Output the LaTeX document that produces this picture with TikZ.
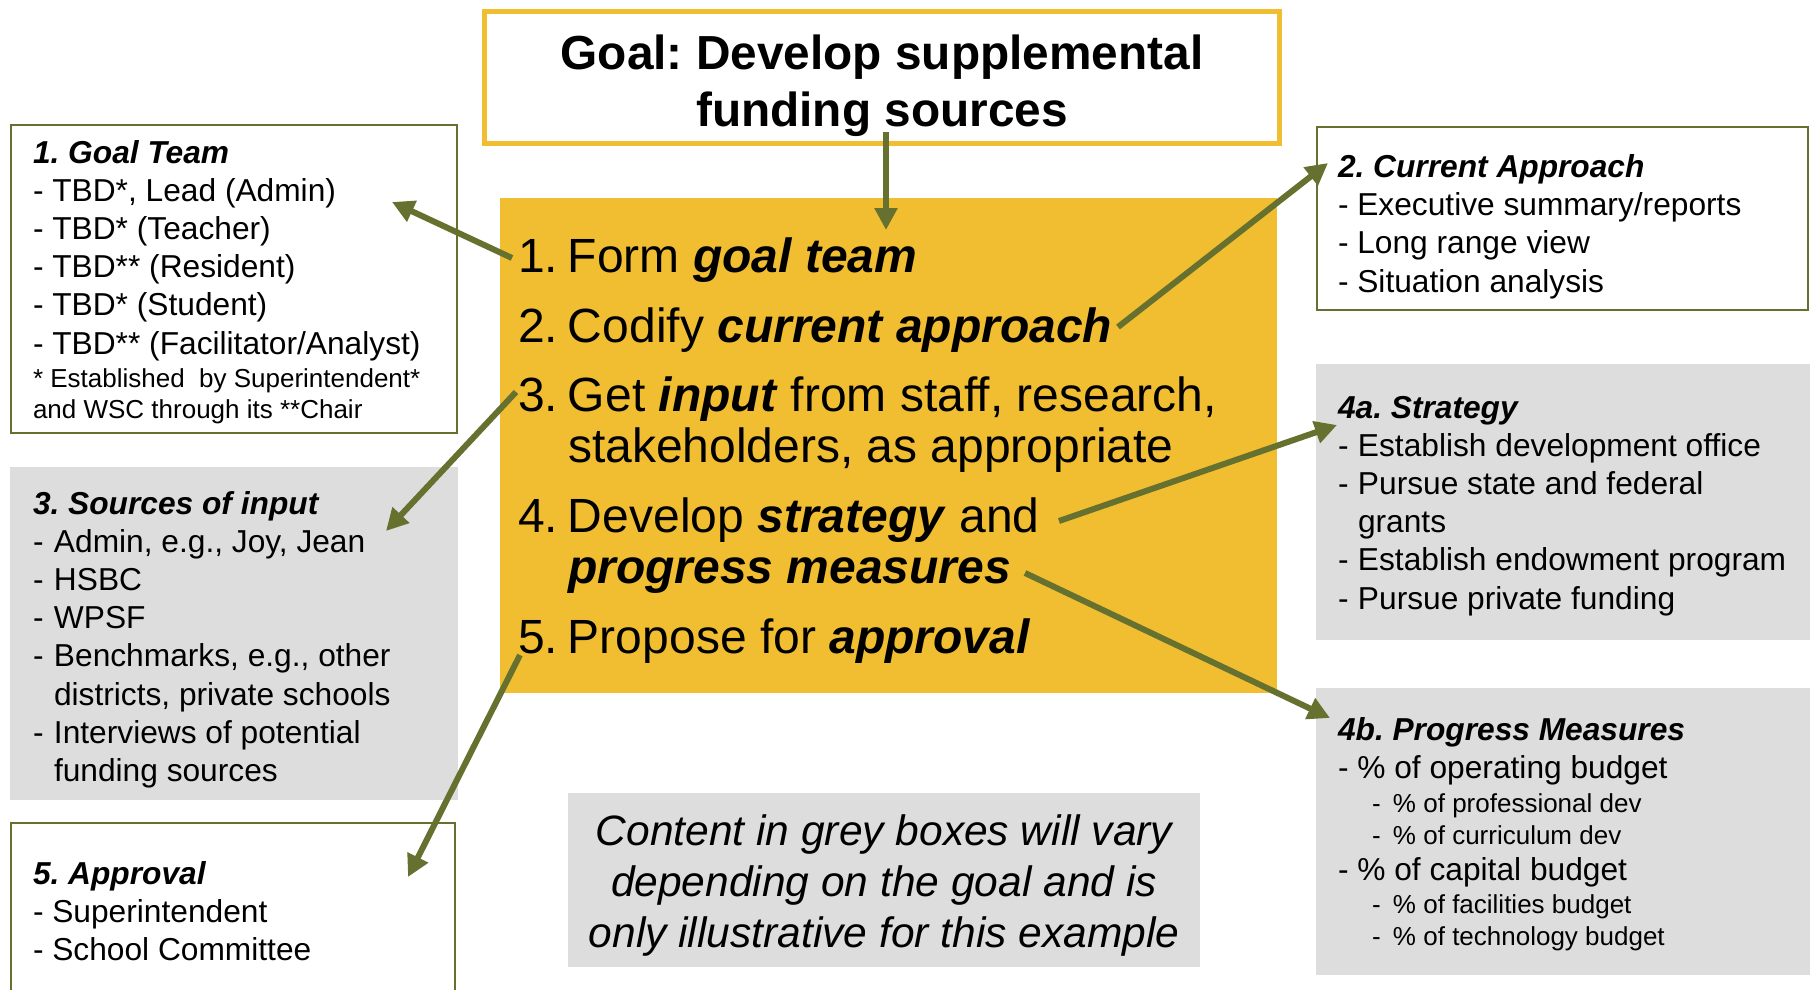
\documentclass[tikz,border=0pt]{standalone}
\usepackage{fontspec}
\setmainfont{Liberation Sans}
\usetikzlibrary{arrows.meta}
\definecolor{oliveG}{HTML}{67712F}
\definecolor{goldG}{HTML}{F1BE32}
\definecolor{greyG}{HTML}{DDDDDD}
\newcommand{\bi}[1]{\textbf{\textit{#1}}}
\frenchspacing
\begin{document}
\begin{tikzpicture}[x=1pt,y=-1pt,
  wbox/.style={draw=oliveG, line width=2.5pt, fill=white, anchor=north west, inner sep=0pt, outer sep=0pt},
  gbox/.style={fill=greyG, anchor=north west, inner sep=0pt, outer sep=0pt},
  lbl/.style={anchor=base west, inner sep=0pt, outer sep=0pt, font=\fontsize{31.7}{38.2}\selectfont},
  sublbl/.style={anchor=base west, inner sep=0pt, outer sep=0pt, font=\fontsize{26}{31.5}\selectfont},
  ctext/.style={anchor=base west, inner sep=0pt, outer sep=0pt, font=\fontsize{48}{51.5}\selectfont},
  arr/.style={draw=oliveG, line width=6pt, -{Triangle[length=22pt,width=22pt]}}]
\useasboundingbox (0,0) rectangle (1810,989);
\fill[white] (0,0) rectangle (1810,989);

% boxes
\node[draw=goldG, line width=5pt, fill=white, anchor=north west, inner sep=0pt, outer sep=0pt,
      minimum width=795pt, minimum height=132pt] (goal) at (484.5,11.5) {};
\node[fill=goldG, anchor=north west, inner sep=0pt, outer sep=0pt,
      minimum width=777pt, minimum height=495pt] (steps) at (500,198) {};
\node[wbox, minimum width=446pt, minimum height=308pt] (box1) at (11,125) {};
\node[gbox, minimum width=448pt, minimum height=333pt] (box3) at (10,467) {};
\node[wbox, minimum width=444pt, minimum height=180pt] (box5) at (11,823) {};
\node[wbox, minimum width=491pt, minimum height=183pt] (box2) at (1317,127) {};
\node[gbox, minimum width=494pt, minimum height=276pt] (box4a) at (1316,364) {};
\node[gbox, minimum width=494pt, minimum height=287pt] (box4b) at (1316,688) {};
\node[gbox, minimum width=632pt, minimum height=174pt] (note) at (568,793) {};

% goal title
\node[anchor=base, inner sep=0pt, font=\fontsize{47.8}{57.5}\selectfont\bfseries] (goalt) at (882,69)
  {\parbox[t]{790pt}{\centering Goal: Develop supplemental\\funding sources}};

% central steps
\node[ctext] (c1) at (518,272) {\makebox[50pt][l]{1.}Form \bi{goal team}};
\node[ctext] (c2) at (518,342) {\makebox[50pt][l]{2.}Codify \bi{current approach}};
\node[ctext] (c3) at (518,411) {\makebox[50pt][l]{3.}\parbox[t]{700pt}{Get \bi{input} from staff, research,\\stakeholders, as appropriate}};
\node[ctext] (c4) at (518,532) {\makebox[50pt][l]{4.}\parbox[t]{700pt}{Develop \bi{strategy} and\\\bi{progress measures}}};
\node[ctext] (c5) at (518,653) {\makebox[50pt][l]{5.}Propose for \bi{approval}};

% box 1
\node[lbl] (t1) at (33,163) {\parbox[t]{420pt}{\bi{1. Goal Team}\\
- TBD*, Lead (Admin)\\
- TBD* (Teacher)\\
- TBD** (Resident)\\
- TBD* (Student)\\
- TBD** (Facilitator/Analyst)}};
\node[sublbl] (f1) at (33,387) {\parbox[t]{420pt}{* Established\ \ by Superintendent*\\and WSC through its **Chair}};

% box 3
\node[lbl] (t3) at (33,514) {\parbox[t]{420pt}{\bi{3. Sources of input}\\
\makebox[21pt][l]{-}Admin, e.g., Joy, Jean\\
\makebox[21pt][l]{-}HSBC\\
\makebox[21pt][l]{-}WPSF\\
\makebox[21pt][l]{-}Benchmarks, e.g., other\\
\hspace*{21pt}districts, private schools\\
\makebox[21pt][l]{-}Interviews of potential\\
\hspace*{21pt}funding sources}};

% box 5
\node[lbl] (t5) at (33,884.5) {\parbox[t]{420pt}{\bi{5. Approval}\\
- Superintendent\\
- School Committee}};

% box 2
\node[lbl] (t2) at (1338,177.5) {\parbox[t]{460pt}{\bi{2. Current Approach}\\
- Executive summary/reports\\
- Long range view\\
- Situation analysis}};

% box 4a
\node[lbl] (t4a) at (1338,418) {\parbox[t]{470pt}{\bi{4a. Strategy}\\
\makebox[20pt][l]{-}Establish development office\\
\makebox[20pt][l]{-}Pursue state and federal\\
\hspace*{20pt}grants\\
\makebox[20pt][l]{-}Establish endowment program\\
\makebox[20pt][l]{-}Pursue private funding}};

% box 4b
\node[lbl] (t4b) at (1338,740) {\bi{4b. Progress Measures}};
\node[lbl] (t4b1) at (1338,778) {- \% of operating budget};
\node[sublbl] (t4b2) at (1372,812) {\makebox[21pt][l]{-}\% of professional dev};
\node[sublbl] (t4b3) at (1372,844) {\makebox[21pt][l]{-}\% of curriculum dev};
\node[lbl] (t4b4) at (1338,880) {- \% of capital budget};
\node[sublbl] (t4b5) at (1372,913) {\makebox[21pt][l]{-}\% of facilities budget};
\node[sublbl] (t4b6) at (1372,945) {\makebox[21pt][l]{-}\% of technology budget};

% note
\node[anchor=base, inner sep=0pt, font=\fontsize{42.5}{51}\selectfont\itshape] (notet) at (884,845)
  {\parbox[t]{630pt}{\centering Content in grey boxes will vary\\depending on the goal and is\\only illustrative for this example}};

% arrow end points
\coordinate (g0) at (886,132);  \coordinate (g1) at (886,230);
\coordinate (a1s) at (512,258); \coordinate (a1e) at (392,202);
\coordinate (a2s) at (1118,327); \coordinate (a2e) at (1328,163);
\coordinate (a3s) at (516,392); \coordinate (a3e) at (386,531);
\coordinate (a4s) at (1059,521); \coordinate (a4e) at (1337,425);
\coordinate (a5s) at (1025,573); \coordinate (a5e) at (1330,718);
\coordinate (a6s) at (520,655); \coordinate (a6e) at (408,877);

\draw[arr] (g0) -- (g1);
\draw[arr] (a1s) -- (a1e);
\draw[arr] (a2s) -- (a2e);
\draw[arr] (a3s) -- (a3e);
\draw[arr] (a4s) -- (a4e);
\draw[arr] (a5s) -- (a5e);
\draw[arr] (a6s) -- (a6e);
\end{tikzpicture}
\end{document}
